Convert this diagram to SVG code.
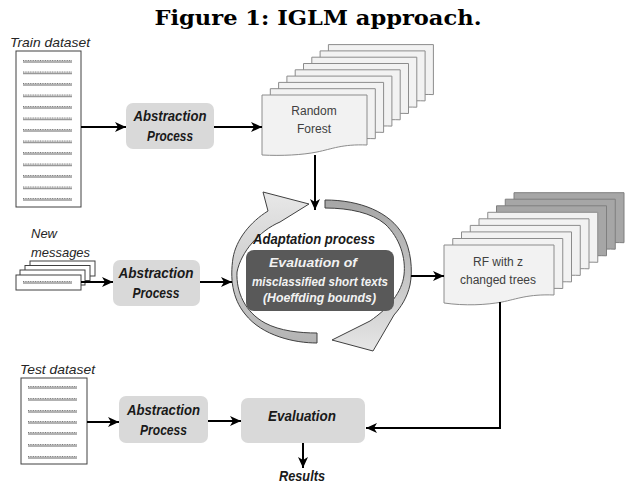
<svg xmlns="http://www.w3.org/2000/svg" width="627" height="483" viewBox="0 0 627 483">
<style>
.title{font-family:"DejaVu Serif","Liberation Serif",serif;font-weight:bold;font-size:21px;fill:#000;text-anchor:middle}
.lbl{font-family:"Liberation Sans",Arial,sans-serif;font-style:italic;font-size:13px;fill:#262626}
.bi{font-family:"Liberation Sans",Arial,sans-serif;font-style:italic;font-weight:bold;font-size:14px;fill:#1a1a1a;text-anchor:middle}
.wt{font-family:"Liberation Sans",Arial,sans-serif;font-style:italic;font-weight:bold;font-size:12.5px;fill:#f2f2f2;text-anchor:middle}
.pt{font-family:"Liberation Sans",Arial,sans-serif;font-size:12px;fill:#404040;text-anchor:middle}
.box{fill:#d9d9d9}
.doc{fill:#fff;stroke:#404040;stroke-width:1}
.ln{stroke:#999;stroke-width:1.6;fill:none}
.dl{stroke:#555;stroke-width:0.8;stroke-dasharray:1 0.7;fill:none}
.page{fill:#f2f2f2;stroke:#8c8c8c;stroke-width:1}
.dpage{fill:#a6a6a6;stroke:#7f7f7f;stroke-width:1}
.conn{stroke:#000;stroke-width:2;fill:none;marker-end:url(#ah)}
.band{stroke:#404040;stroke-width:1}
</style>
<defs>
<marker id="ah" markerWidth="12" markerHeight="10" refX="11" refY="5" orient="auto" markerUnits="userSpaceOnUse" viewBox="0 0 12 10">
<path d="M0,0 L11,5 L0,10 L3,5 Z" fill="#000"/>
</marker>
<path id="doc1" d="M0,0 H105 V50 C80,49 70,54 55,57 C40,60 20,61 0,60 Z"/>
<path id="doc2" d="M0,0 H110 V50 C84,49 73,54 58,57 C42,60 21,61 0,58 Z"/>
<linearGradient id="gl" x1="0" y1="1" x2="0" y2="0">
<stop offset="0" stop-color="#b3b3b3"/><stop offset="0.5" stop-color="#cfcfcf"/><stop offset="1" stop-color="#e8e8e8"/>
</linearGradient>
<linearGradient id="gr" x1="0" y1="0" x2="0" y2="1">
<stop offset="0" stop-color="#a6a6a6"/><stop offset="0.5" stop-color="#c4c4c4"/><stop offset="1" stop-color="#e6e6e6"/>
</linearGradient>
</defs>

<text class="title" x="318" y="25" textLength="327" lengthAdjust="spacingAndGlyphs">Figure 1: IGLM approach.</text>

<g id="train-dataset">
<text class="lbl" x="10" y="47" textLength="80" lengthAdjust="spacingAndGlyphs">Train dataset</text>
<rect class="doc" x="16" y="51" width="65" height="156"/>
<path class="ln" d="M23,62H72M23,73.5H72M23,85H72M23,96.5H72M23,108H72M23,119.5H72M23,131H72M23,142.5H72M23,154H72M23,165.5H72M23,177H72M23,188.5H72M23,200H72"/>
<path class="dl" d="M23,60.5H72M23,72H72M23,83.5H72M23,95H72M23,106.5H72M23,118H72M23,129.5H72M23,141H72M23,152.5H72M23,164H72M23,175.5H72M23,187H72M23,198.5H72"/>
</g>

<g id="abstraction-1">
<rect class="box" x="126" y="103" width="88" height="46" rx="7"/>
<text class="bi" x="170" y="121" textLength="73" lengthAdjust="spacingAndGlyphs">Abstraction</text>
<text class="bi" x="170" y="141" textLength="46" lengthAdjust="spacingAndGlyphs">Process</text>
</g>

<g id="random-forest">
<use href="#doc1" class="page" x="328.4" y="44.6"/>
<use href="#doc1" class="page" x="320.1" y="50.9"/>
<use href="#doc1" class="page" x="311.8" y="57.2"/>
<use href="#doc1" class="page" x="303.5" y="63.5"/>
<use href="#doc1" class="page" x="295.2" y="69.8"/>
<use href="#doc1" class="page" x="286.9" y="76.1"/>
<use href="#doc1" class="page" x="278.6" y="82.4"/>
<use href="#doc1" class="page" x="270.3" y="88.7"/>
<use href="#doc1" class="page" x="262" y="95"/>
<text class="pt" x="314" y="115">Random</text>
<text class="pt" x="314" y="133">Forest</text>
</g>

<g id="new-messages">
<text class="lbl" x="31" y="238">New</text>
<text class="lbl" x="31" y="257" textLength="59" lengthAdjust="spacingAndGlyphs">messages</text>
<rect class="doc" x="30" y="261" width="65" height="15"/>
<rect class="doc" x="25" y="265.5" width="65" height="15"/>
<rect class="doc" x="20" y="270" width="65" height="15"/>
<rect class="doc" x="16" y="275" width="65" height="15"/>
<path class="ln" d="M23,283H72"/>
<path class="dl" d="M23,281.5H72"/>
</g>

<g id="abstraction-2">
<rect class="box" x="113" y="260" width="87" height="46" rx="7"/>
<text class="bi" x="156" y="278" textLength="75" lengthAdjust="spacingAndGlyphs">Abstraction</text>
<text class="bi" x="156" y="298" textLength="47" lengthAdjust="spacingAndGlyphs">Process</text>
</g>

<g id="adaptation-process">
<path class="band" fill="url(#gl)" d="M317,343 C295,343 262,336 245,314 C232,298 230,278 233,258 C236,240 250,222 268,211 L263,192 L309,204 L280,222 C259,231 241,252 237,272 C236,292 245,312 265,323 C280,331 300,333 317,333 Z"/>
<path class="band" fill="url(#gr)" d="M325,200 C360,200 390,212 403,235 C411,250 413,270 410,285 C407,298 401,307 394,315 L373,351 L332,340 L370,321 C389,308 402,292 404,275 C406,258 400,238 385,224 C372,213 350,208 325,208 Z"/>
<text class="bi" x="314" y="244" font-size="13.5" textLength="122" lengthAdjust="spacingAndGlyphs">Adaptation process</text>
<rect x="246" y="250" width="148" height="61" rx="8" fill="#595959"/>
<text class="wt" x="313" y="267" textLength="88" lengthAdjust="spacingAndGlyphs">Evaluation of</text>
<text class="wt" x="320" y="286" textLength="136" lengthAdjust="spacingAndGlyphs">misclassified short texts</text>
<text class="wt" x="319.5" y="302" textLength="113" lengthAdjust="spacingAndGlyphs">(Hoeffding bounds)</text>
</g>

<g id="rf-changed-trees">
<use href="#doc2" class="dpage" x="514" y="192.7"/>
<use href="#doc2" class="dpage" x="505.25" y="199.2"/>
<use href="#doc2" class="dpage" x="496.5" y="205.8"/>
<use href="#doc2" class="page" x="487.75" y="212.3"/>
<use href="#doc2" class="page" x="479" y="218.8"/>
<use href="#doc2" class="page" x="470.25" y="225.4"/>
<use href="#doc2" class="page" x="461.5" y="231.9"/>
<use href="#doc2" class="page" x="452.75" y="238.5"/>
<use href="#doc2" class="page" x="444" y="245"/>
<text class="pt" x="498" y="266">RF with z</text>
<text class="pt" x="498" y="284">changed trees</text>
</g>

<g id="test-dataset">
<text class="lbl" x="20" y="374" textLength="75" lengthAdjust="spacingAndGlyphs">Test dataset</text>
<rect class="doc" x="21" y="378" width="66" height="86"/>
<path class="ln" d="M28,388H77M28,400H77M28,412H77M28,423H77M28,434H77M28,446H77M28,458H77"/>
<path class="dl" d="M28,386.5H77M28,398.5H77M28,410.5H77M28,421.5H77M28,432.5H77M28,444.5H77M28,456.5H77"/>
</g>

<g id="abstraction-3">
<rect class="box" x="119" y="396" width="89" height="47" rx="7"/>
<text class="bi" x="163.5" y="415" textLength="73" lengthAdjust="spacingAndGlyphs">Abstraction</text>
<text class="bi" x="163.5" y="435" textLength="47" lengthAdjust="spacingAndGlyphs">Process</text>
</g>

<g id="evaluation">
<rect class="box" x="241" y="398" width="124" height="45" rx="7"/>
<text class="bi" x="302" y="421" font-size="15" textLength="68" lengthAdjust="spacingAndGlyphs">Evaluation</text>
</g>

<g id="results">
<text class="bi" x="302" y="481" font-size="13.5" textLength="46" lengthAdjust="spacingAndGlyphs">Results</text>
</g>

<g id="connectors">
<path class="conn" d="M81,127 H126"/>
<path class="conn" d="M214,127 H262"/>
<path class="conn" d="M315,155 V210"/>
<path class="conn" d="M81,282 H113"/>
<path class="conn" d="M200,282 H232"/>
<path class="conn" d="M411,276 H444"/>
<path class="conn" d="M500,302 V428 H366"/>
<path class="conn" d="M87,422 H119"/>
<path class="conn" d="M208,421 H241"/>
<path class="conn" d="M303,443 V468"/>
</g>
</svg>
